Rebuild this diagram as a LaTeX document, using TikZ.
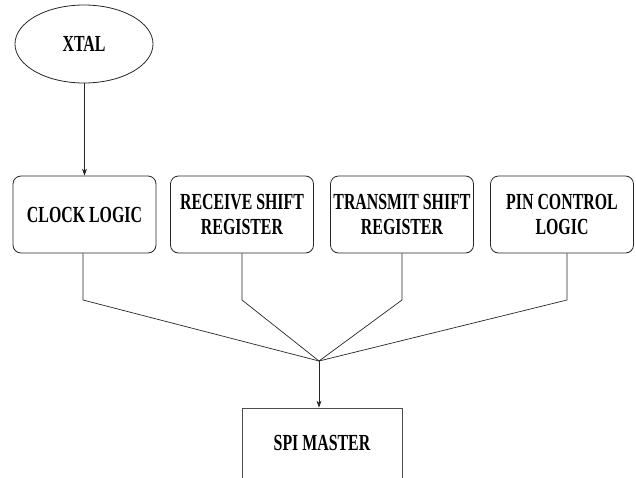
\documentclass[tikz,border=0pt]{standalone}
\usepackage{fontspec}
\setmainfont{Liberation Serif}[FakeStretch=0.69]
\usetikzlibrary{arrows.meta,shapes.geometric}
\begin{document}
\begin{tikzpicture}[x=1pt,y=-1pt,
  font=\fontsize{23}{25}\selectfont\bfseries,
  blk/.style={draw=black!85, rounded corners=8pt, line width=0.8pt, minimum width=143pt, minimum height=77pt, align=center, inner sep=0pt},
  spibox/.style={draw=black!70, line width=0.8pt, minimum width=160pt, minimum height=70pt, align=center, inner sep=0pt},
  oval/.style={draw=black!85, ellipse, line width=0.8pt, minimum width=138pt, minimum height=78pt, inner sep=0pt},
  wire/.style={draw=black!85, line width=0.7pt},
  arr/.style={wire, -{Stealth[length=7pt,width=5pt]}}]
\useasboundingbox (0,0) rectangle (636,477);
\clip (0,0) rectangle (636,477);
\node[oval] (xtal) at (84,44) {XTAL};
\node[blk] (clock) at (84.5,214.5) {CLOCK LOGIC};
\node[blk] (recv) at (242,214.5) {RECEIVE SHIFT\\REGISTER};
\node[blk] (trans) at (402,214.5) {TRANSMIT SHIFT\\REGISTER};
\node[blk] (pin) at (562,214.5) {PIN CONTROL\\LOGIC};
\node[spibox] (spi) at (322,443) {SPI MASTER};
\coordinate (c1) at (83,300);
\coordinate (c2) at (242,300);
\coordinate (c3) at (402,300);
\coordinate (c4) at (567,300);
\coordinate (j) at (319,361);
\draw[arr] (xtal.south -| clock.north) -- (clock.north);
\draw[wire] (clock.south -| c1) -- (c1) -- (j);
\draw[wire] (recv.south -| c2) -- (c2) -- (j);
\draw[wire] (trans.south -| c3) -- (c3) -- (j);
\draw[wire] (pin.south -| c4) -- (c4) -- (j);
\draw[arr] (j) -- (j |- spi.north);
\end{tikzpicture}
\end{document}
